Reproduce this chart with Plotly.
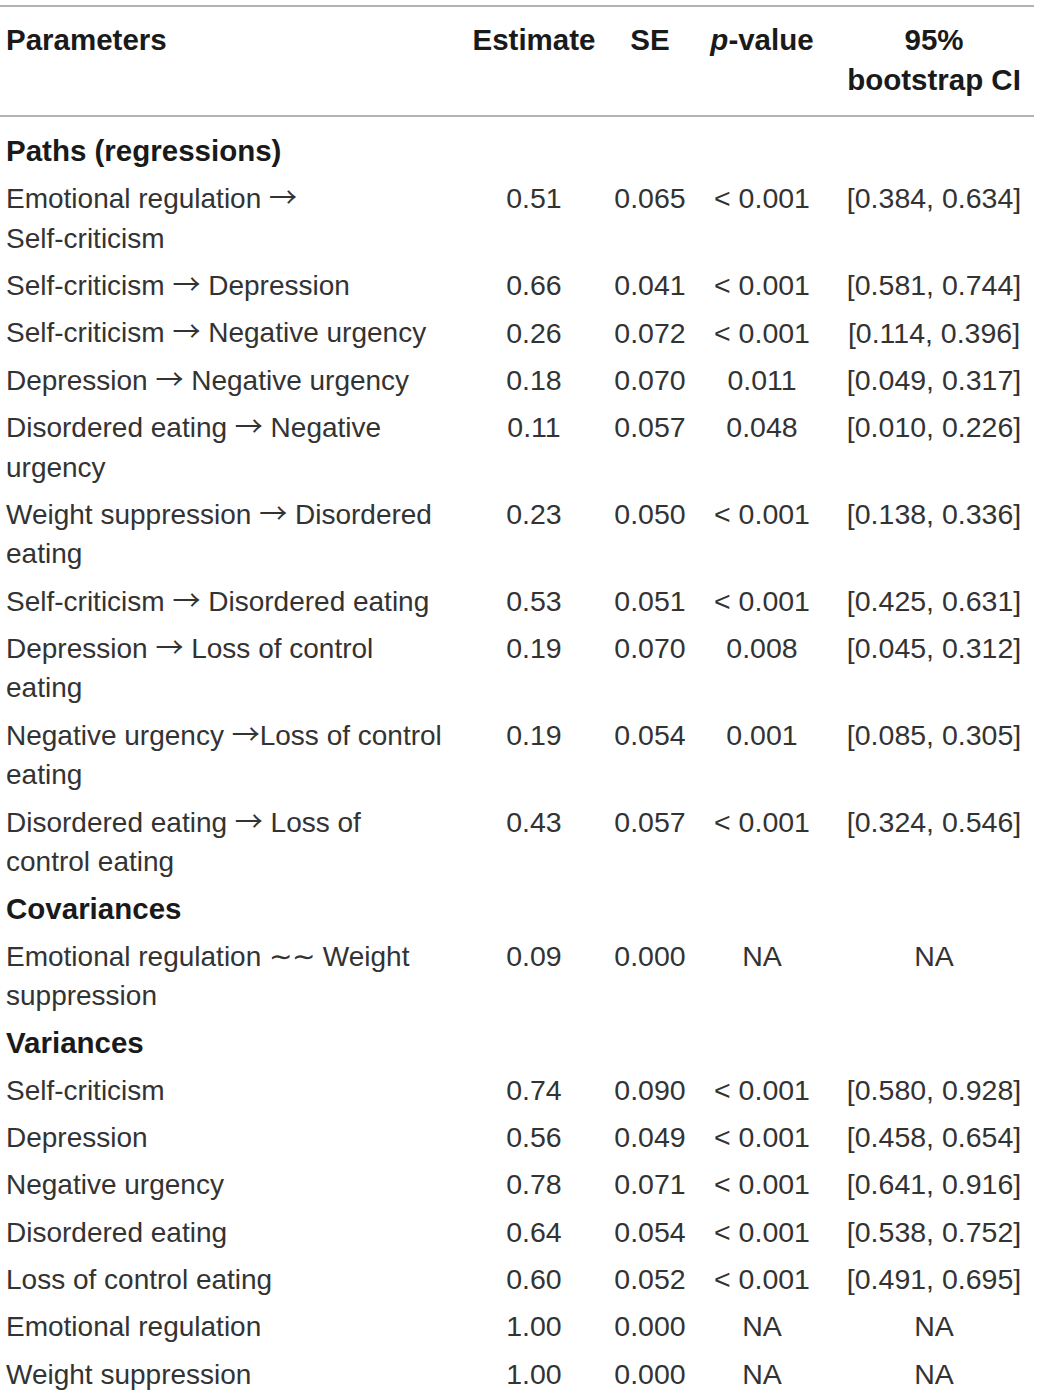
import plotly.graph_objects as go

# column headers
col_headers = ["Parameters", "Estimate", "SE", "<i>p</i>-value", "95%<br>bootstrap CI"]

# section titles and how many rows fall under each
sections = ["Paths (regressions)", "Covariances", "Variances"]
section_sizes = [10, 1, 7]

ARROW = '<span style="font-family:\'Noto Sans CJK SC\'">→</span>'

# parameter names, already wrapped the way the table wraps them
params = [
    ["Emotional regulation →", "Self-criticism"],
    ["Self-criticism → Depression"],
    ["Self-criticism → Negative urgency"],
    ["Depression → Negative urgency"],
    ["Disordered eating → Negative", "urgency"],
    ["Weight suppression → Disordered", "eating"],
    ["Self-criticism → Disordered eating"],
    ["Depression → Loss of control", "eating"],
    ["Negative urgency →Loss of control", "eating"],
    ["Disordered eating → Loss of", "control eating"],
    ["Emotional regulation ∼∼ Weight", "suppression"],
    ["Self-criticism"],
    ["Depression"],
    ["Negative urgency"],
    ["Disordered eating"],
    ["Loss of control eating"],
    ["Emotional regulation"],
    ["Weight suppression"],
]
estimates = [0.51, 0.66, 0.26, 0.18, 0.11, 0.23, 0.53, 0.19, 0.19, 0.43,
             0.09,
             0.74, 0.56, 0.78, 0.64, 0.60, 1.00, 1.00]
std_errors = [0.065, 0.041, 0.072, 0.070, 0.057, 0.050, 0.051, 0.070, 0.054, 0.057,
              0.000,
              0.090, 0.049, 0.071, 0.054, 0.052, 0.000, 0.000]
p_values = ["< 0.001", "< 0.001", "< 0.001", "0.011", "0.048", "< 0.001", "< 0.001",
            "0.008", "0.001", "< 0.001",
            "NA",
            "< 0.001", "< 0.001", "< 0.001", "< 0.001", "< 0.001", "NA", "NA"]
ci_low = [0.384, 0.581, 0.114, 0.049, 0.010, 0.138, 0.425, 0.045, 0.085, 0.324,
          None,
          0.580, 0.458, 0.641, 0.538, 0.491, None, None]
ci_high = [0.634, 0.744, 0.396, 0.317, 0.226, 0.336, 0.631, 0.312, 0.305, 0.546,
           None,
           0.928, 0.654, 0.916, 0.752, 0.695, None, None]

W, H = 1040, 1395
FONT = "Liberation Sans"
FS = 28        # body text
FS_NUM = 28.5  # numbers
FS_B = 29.5    # bold headings
INK = "#333333"
INK_B = "#1a1a1a"
RULE = "#9a9a9a"

col_x = [6, 534, 650, 762, 934]
row_pitch = 47.3
line_pitch = 39.5

# lay the rows out top to bottom
bold_x, bold_y, bold_t = [], [], []
name_x, name_y, name_t = [], [], []
num_rows = []  # (y, est, se, p, ci)
y = 154.0
r = 0
for sec, n in zip(sections, section_sizes):
    bold_x.append(col_x[0]); bold_y.append(y); bold_t.append("<b>%s</b>" % sec)
    y += row_pitch
    for _ in range(n):
        for k, ln in enumerate(params[r]):
            name_x.append(col_x[0]); name_y.append(y + k * line_pitch)
            name_t.append(ln.replace("→", ARROW))
        if ci_low[r] is None:
            ci = "NA"
        else:
            ci = "[%.3f, %.3f]" % (ci_low[r], ci_high[r])
        num_rows.append((y, "%.2f" % estimates[r], "%.3f" % std_errors[r], p_values[r], ci))
        y += row_pitch + (len(params[r]) - 1) * line_pitch
        r += 1

fig = go.Figure()

# header
head_y = 43
fig.add_trace(go.Scatter(
    x=[col_x[0]], y=[head_y], text=["<b>%s</b>" % col_headers[0]],
    mode="text", textposition="middle right", cliponaxis=False,
    textfont=dict(family=FONT, size=FS_B, color=INK_B), hoverinfo="skip"))
fig.add_trace(go.Scatter(
    x=col_x[1:4], y=[head_y] * 3, text=["<b>%s</b>" % h for h in col_headers[1:4]],
    mode="text", textposition="middle center",
    textfont=dict(family=FONT, size=FS_B, color=INK_B), hoverinfo="skip"))
ci_head = col_headers[4].split("<br>")
fig.add_trace(go.Scatter(
    x=[col_x[4], col_x[4]], y=[head_y, head_y + line_pitch],
    text=["<b>%s</b>" % h for h in ci_head],
    mode="text", textposition="middle center",
    textfont=dict(family=FONT, size=FS_B, color=INK_B), hoverinfo="skip"))

# section titles
fig.add_trace(go.Scatter(
    x=bold_x, y=bold_y, text=bold_t, mode="text", textposition="middle right",
    cliponaxis=False,
    textfont=dict(family=FONT, size=FS_B, color=INK_B), hoverinfo="skip"))

# parameter names
fig.add_trace(go.Scatter(
    x=name_x, y=name_y, text=name_t, mode="text", textposition="middle right",
    cliponaxis=False,
    textfont=dict(family=FONT, size=FS, color=INK), hoverinfo="skip"))

# numeric columns
for c in range(1, 5):
    fig.add_trace(go.Scatter(
        x=[col_x[c]] * len(num_rows), y=[row[0] for row in num_rows],
        text=[row[c] for row in num_rows], mode="text", textposition="middle center",
        cliponaxis=False,
        textfont=dict(family=FONT, size=FS_NUM, color=INK), hoverinfo="skip"))

# rules above and below the header
for ry in (6, 116):
    fig.add_shape(type="line", x0=0, x1=1034, y0=ry, y1=ry, xref="x", yref="y",
                  line=dict(color=RULE, width=1.5))

fig.update_layout(
    width=W, height=H, showlegend=False,
    margin=dict(l=0, r=0, t=0, b=0),
    paper_bgcolor="white", plot_bgcolor="white",
    xaxis=dict(range=[0, W], visible=False, fixedrange=True),
    yaxis=dict(range=[H, 0], visible=False, fixedrange=True),
)

# drop the browser's default 8px page margin so the figure sits at the corner
fig.write_html("out.html", config={"displayModeBar": False},
               post_script="document.body.style.margin='0';")
